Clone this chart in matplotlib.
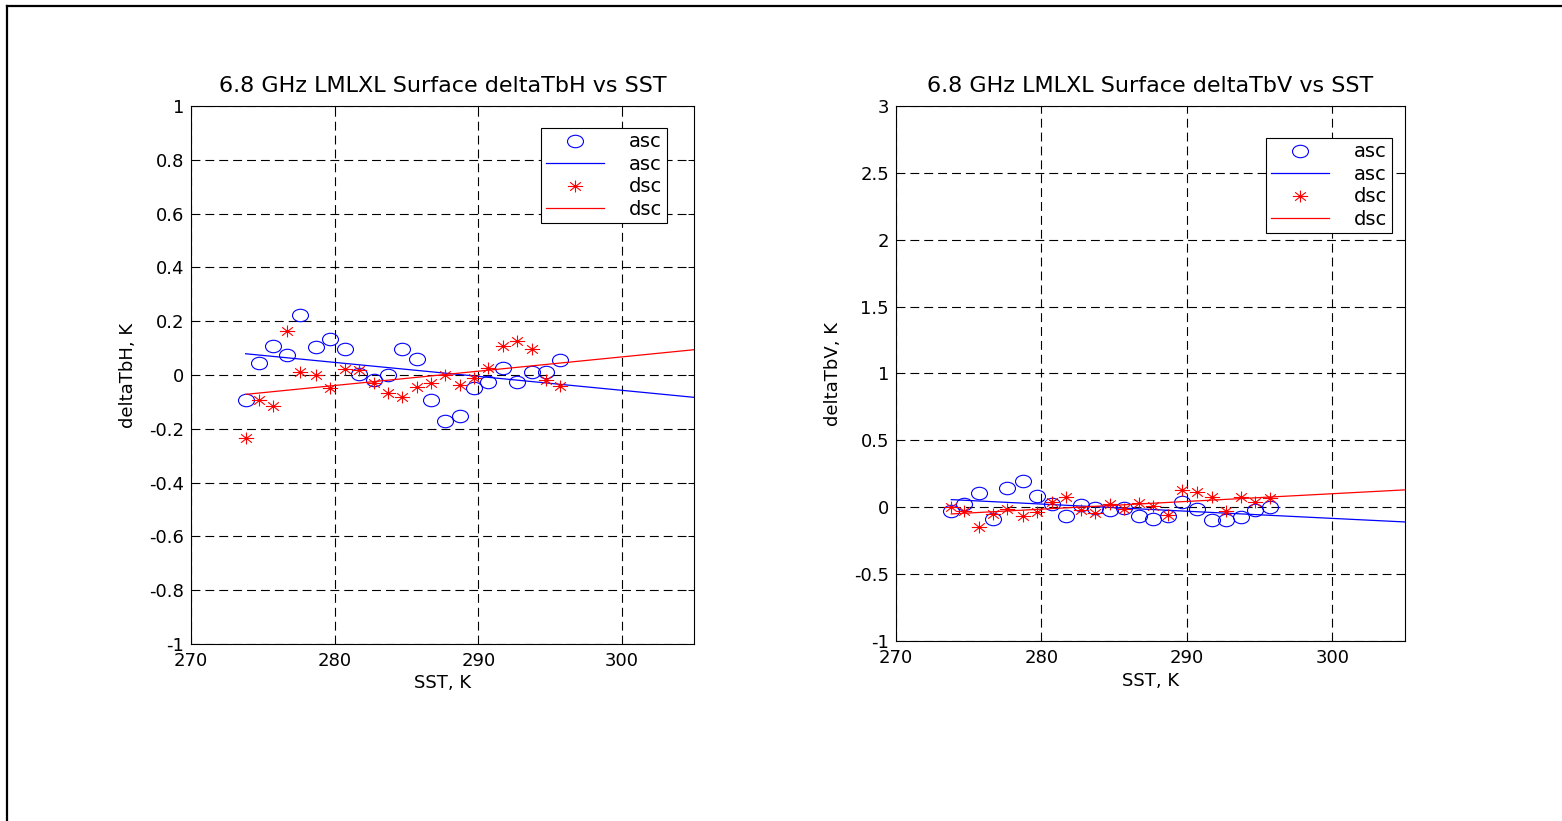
import numpy as np
import matplotlib
matplotlib.use("Agg")
import matplotlib.pyplot as plt
from matplotlib.path import Path
from matplotlib.transforms import Affine2D
from matplotlib.lines import Line2D

plt.rcParams['font.family'] = ['DejaVu Sans']
plt.rcParams['font.size'] = 13

# SST bins (K)
sst = [273.8, 274.7, 275.7, 276.7, 277.6, 278.7, 279.7, 280.7, 281.7, 282.7, 283.7, 284.7,
       285.7, 286.7, 287.7, 288.7, 289.7, 290.7, 291.7, 292.7, 293.7, 294.7, 295.7]

# deltaTbH
asc_h = [-0.093, 0.043, 0.109, 0.074, 0.224, 0.104, 0.135, 0.098, 0.005, -0.020, 0.000, 0.098,
         0.058, -0.093, -0.172, -0.151, -0.050, -0.026, 0.027, -0.026, 0.010, 0.010, 0.054]
dsc_h = [-0.234, -0.093, -0.114, 0.162, 0.011, 0.000, -0.049, 0.024, 0.017, -0.031, -0.067, -0.080,
         -0.046, -0.031, 0.000, -0.037, -0.012, 0.025, 0.109, 0.125, 0.095, -0.017, -0.042]

# deltaTbV
asc_v = [-0.030, 0.025, 0.107, -0.087, 0.147, 0.199, 0.087, 0.025, -0.063, 0.017, -0.005, -0.018,
         -0.005, -0.063, -0.087, -0.063, 0.037, -0.013, -0.095, -0.095, -0.075, -0.018, 0.000]
dsc_v = [0.000, -0.025, -0.150, -0.050, -0.013, -0.063, -0.037, 0.037, 0.075, -0.018, -0.043, 0.025,
         -0.010, 0.030, 0.010, -0.060, 0.129, 0.112, 0.075, -0.025, 0.075, 0.037, 0.067]

# linear fit lines (endpoints)
fit_x = [273.8, 305.0]
asc_fit_h = [0.079, -0.083]
dsc_fit_h = [-0.072, 0.094]
asc_fit_v = [0.057, -0.11]
dsc_fit_v = [-0.05, 0.13]

# slightly squashed markers (the original image is stretched horizontally)
squash = Affine2D().scale(1.0, 0.78)
circ = Path.unit_circle().transformed(squash)
ang = np.arange(8) * np.pi / 4
verts, codes = [], []
for a in ang:
    verts += [(0, 0), (np.cos(a), np.sin(a))]
    codes += [Path.MOVETO, Path.LINETO]
star = Path(verts, codes).transformed(squash)

fig = plt.figure(figsize=(15.62, 8.21), dpi=100)

# outer frame (top and left only visible)
fig.add_artist(Line2D([6.5 / 1562, 1.0], [1 - 6.5 / 821, 1 - 6.5 / 821], color='k', lw=1.6))
fig.add_artist(Line2D([6.5 / 1562, 6.5 / 1562], [0.0, 1 - 6.5 / 821], color='k', lw=1.6))


def panel(rect, asc, dsc, fa, fd, ylim, yticks, ylabel, title, leg_anchor):
    ax = fig.add_axes(rect)
    ax.plot(sst, asc, linestyle='none', marker=circ, markersize=11.5, markerfacecolor='none',
            markeredgecolor='b', markeredgewidth=0.8, label='asc')
    ax.plot(fit_x, fa, color='b', lw=0.9, label='asc')
    ax.plot(sst, dsc, linestyle='none', marker=star, markersize=11, markeredgecolor='r',
            markeredgewidth=0.8, label='dsc')
    ax.plot(fit_x, fd, color='r', lw=0.9, label='dsc')
    ax.set_xlim(270, 305)
    ax.set_ylim(*ylim)
    ax.set_xticks([270, 280, 290, 300])
    ax.set_yticks(yticks)
    ax.set_yticklabels(['%g' % t for t in yticks])
    ax.grid(True, color='k', linestyle=(0, (8, 4.5)), linewidth=0.8)
    ax.tick_params(direction='in', top=True, right=True, length=4, width=0.7)
    ax.tick_params(axis='x', pad=6)
    ax.tick_params(axis='y', pad=5)
    for s in ax.spines.values():
        s.set_linewidth(0.8)
    ax.set_xlabel('SST, K', labelpad=3)
    ax.set_ylabel(ylabel, labelpad=9)
    ax.set_title(title, pad=10, fontsize=16)
    leg = ax.legend(loc='upper right', bbox_to_anchor=leg_anchor, numpoints=1, fancybox=False,
                    edgecolor='k', framealpha=1, fontsize=14, handlelength=3.0, handletextpad=1.3,
                    labelspacing=0.18, borderpad=0.22, borderaxespad=0)
    leg.get_frame().set_linewidth(0.8)
    return ax


panel([191 / 1562, 1 - 644 / 821, 503 / 1562, 538 / 821], asc_h, dsc_h, asc_fit_h, dsc_fit_h,
      (-1, 1), [-1, -0.8, -0.6, -0.4, -0.2, 0, 0.2, 0.4, 0.6, 0.8, 1],
      'deltaTbH, K', '6.8 GHz LMLXL Surface deltaTbH vs SST', (0.946, 0.959))
panel([896 / 1562, 1 - 641 / 821, 509 / 1562, 535 / 821], asc_v, dsc_v, asc_fit_v, dsc_fit_v,
      (-1, 3), [-1, -0.5, 0, 0.5, 1, 1.5, 2, 2.5, 3],
      'deltaTbV, K', '6.8 GHz LMLXL Surface deltaTbV vs SST', (0.974, 0.940))

fig.savefig('out.png', dpi=100)
